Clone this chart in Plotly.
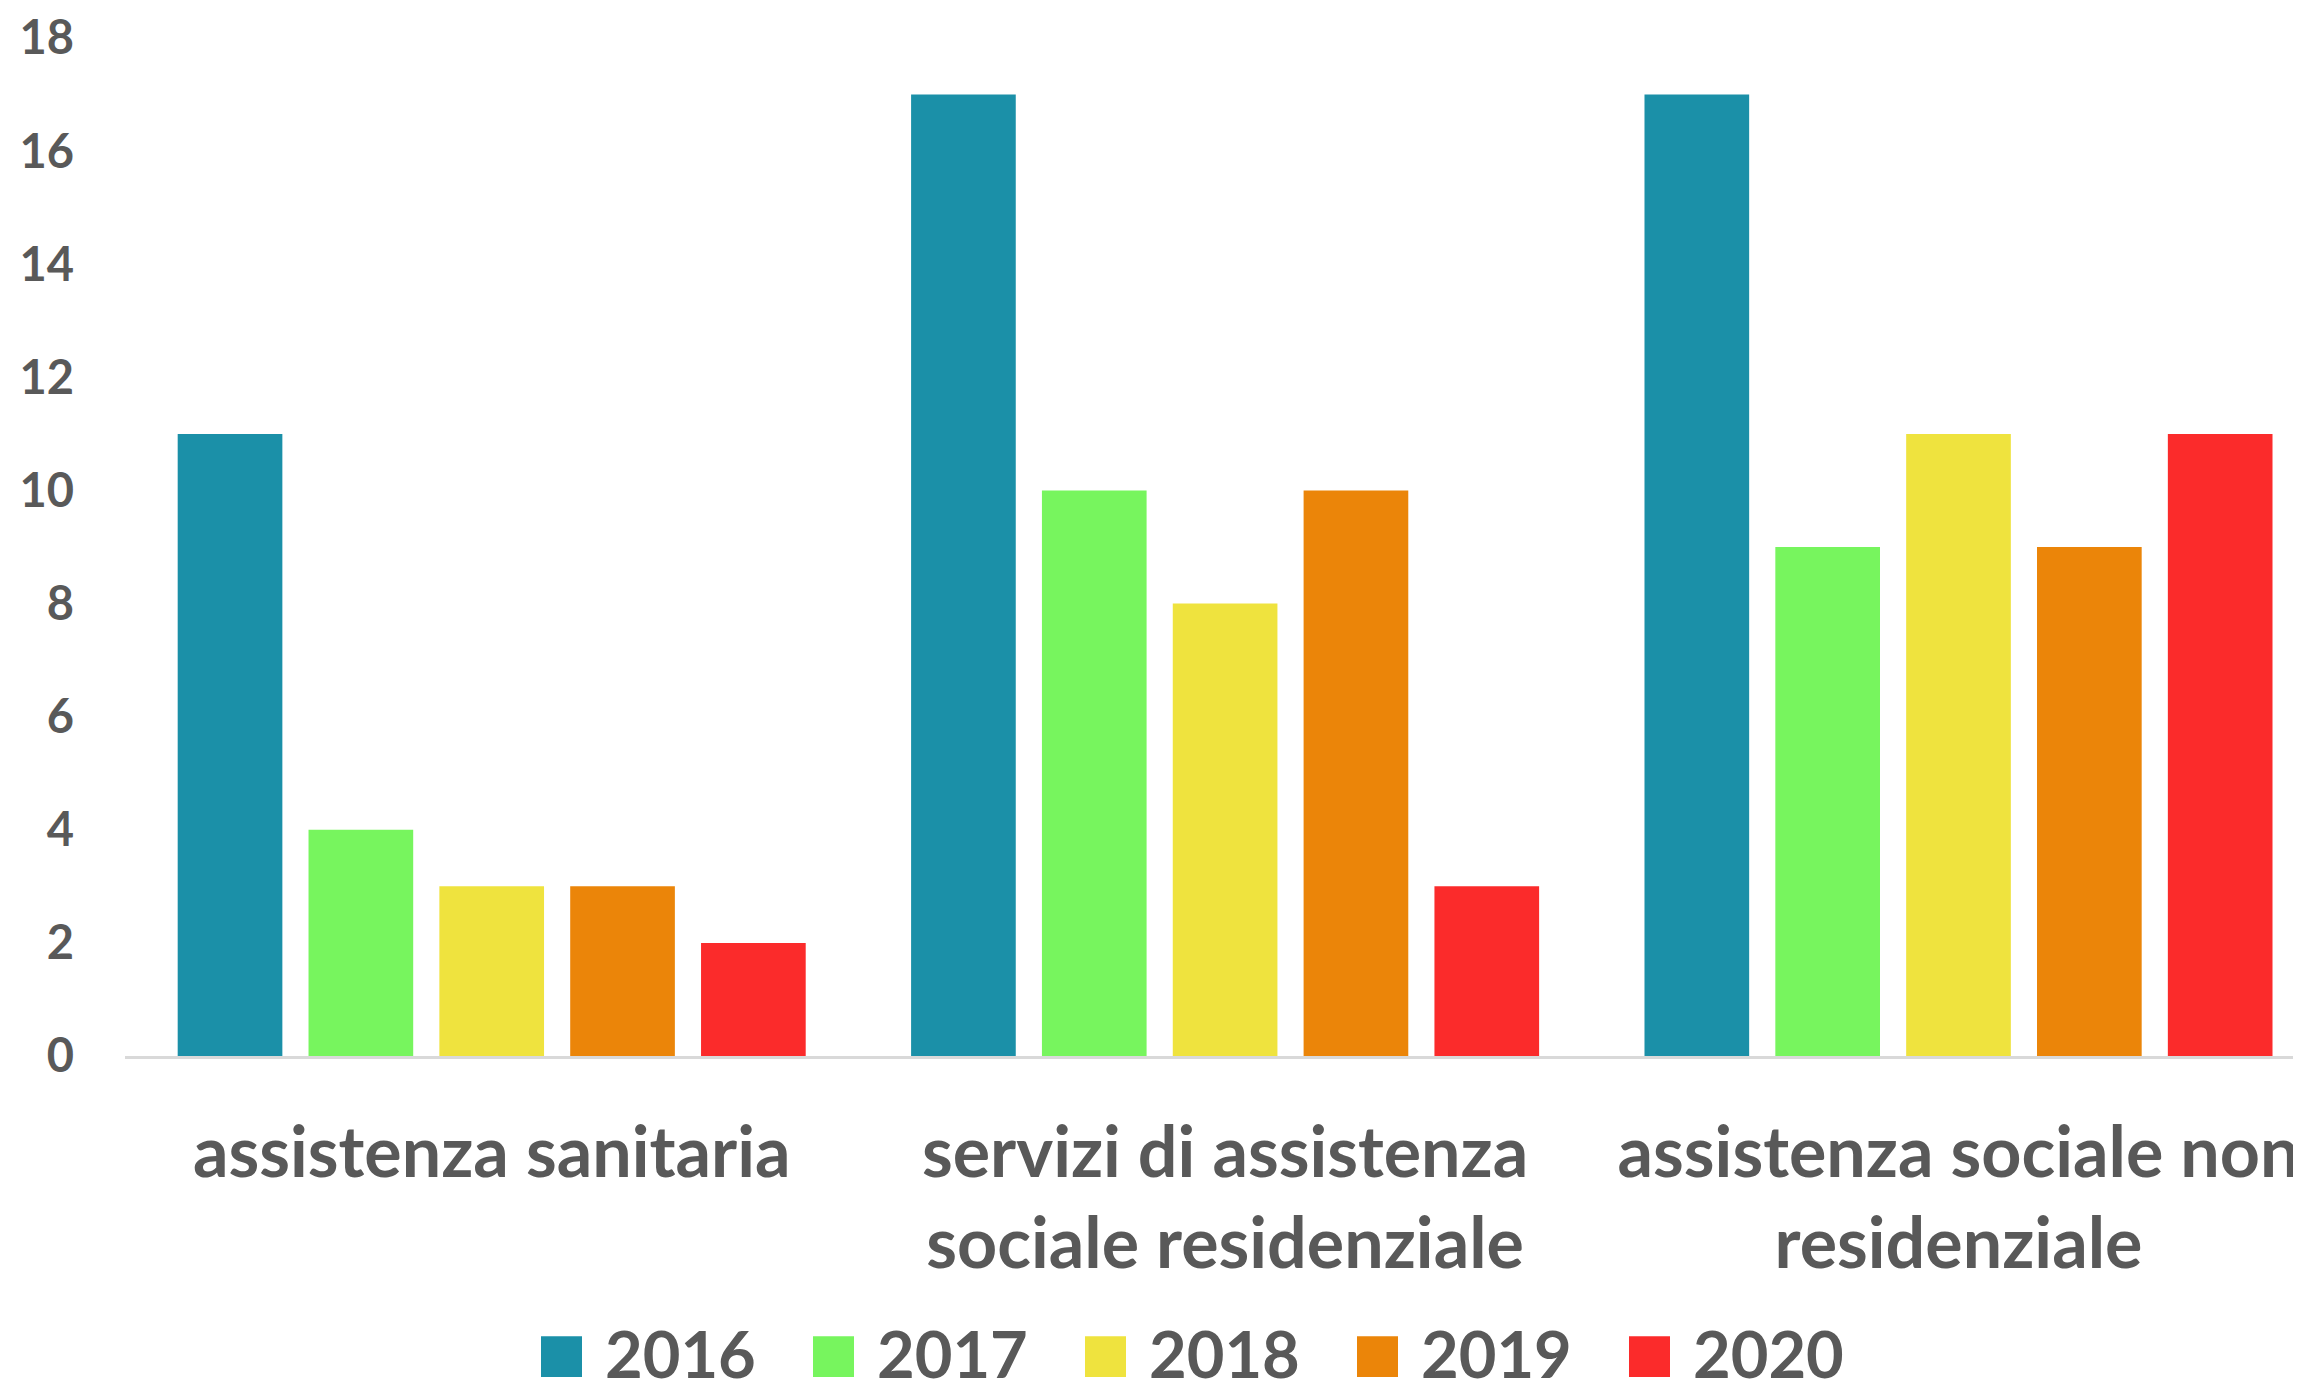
import plotly.graph_objects as go

# ---- data ----
categories = [
    "assistenza sanitaria",
    "servizi di assistenza<br>sociale residenziale",
    "assistenza sociale non<br>residenziale",
]
years = ["2016", "2017", "2018", "2019", "2020"]
values_2016 = [11, 17, 17]
values_2017 = [4, 10, 9]
values_2018 = [3, 8, 11]
values_2019 = [3, 10, 9]
values_2020 = [2, 3, 11]
series = [values_2016, values_2017, values_2018, values_2019, values_2020]
colors = ["#1B90A8", "#77F55E", "#EFE33E", "#EB8509", "#FB2B2B"]
y_ticks = [0, 2, 4, 6, 8, 10, 12, 14, 16, 18]

# ---- layout geometry (page body has an 8px margin) ----
OFF = 8
W, H = 2301 - OFF, 1383 - OFF
L, R, T = 125 - OFF, 0, 35 - OFF
B = H - (1056 - OFF)
PW, PH = W - L - R, H - T - B
TEXT = "#595959"
FONT = "Lato"

def px_x(px):  # window pixel -> paper
    return (px - OFF - L) / PW

def px_y(py):
    return (H - B - (py - OFF)) / PH

fig = go.Figure()
for name, vals, col in zip(years, series, colors):
    fig.add_trace(go.Bar(x=categories, y=vals, name=name, marker_color=col,
                         marker_line_width=0, showlegend=False))

# custom legend (large swatches)
shapes, annots = [], []
leg_x0, leg_step, sw = 541, 272, 41
for i, (name, col) in enumerate(zip(years, colors)):
    x0 = leg_x0 + i * leg_step
    shapes.append(dict(type="rect", xref="paper", yref="paper",
                       x0=px_x(x0), x1=px_x(x0 + sw), y0=px_y(1378), y1=px_y(1337),
                       fillcolor=col, line_width=0))
    annots.append(dict(xref="paper", yref="paper", x=px_x(x0 + 62), y=px_y(1354),
                       xanchor="left", yanchor="middle", showarrow=False, text=name,
                       font=dict(family=FONT, size=65, color=TEXT, weight="bold")))

fig.update_layout(
    width=W, height=H,
    margin=dict(l=L, r=R, t=T, b=B, pad=0),
    paper_bgcolor="white", plot_bgcolor="white",
    barmode="group", bargap=0.108, bargroupgap=0.2,
    font=dict(family=FONT, color=TEXT),
    shapes=shapes, annotations=annots,
    xaxis=dict(range=[-0.5, 2.467], showline=True, linecolor="#D9D9D9", linewidth=3,
               showgrid=False, zeroline=False, ticks="", ticklabelstandoff=34,
               ticklabeloverflow="allow",
               tickfont=dict(family=FONT, size=70, color=TEXT, weight="bold")),
    yaxis=dict(range=[0, 18], tickvals=y_ticks, showgrid=False, zeroline=False,
               showline=False, ticks="", ticklabelstandoff=50,
               ticklabeloverflow="allow",
               tickfont=dict(family=FONT, size=47, color=TEXT, weight="bold")),
)

fig.write_html("out.html")
